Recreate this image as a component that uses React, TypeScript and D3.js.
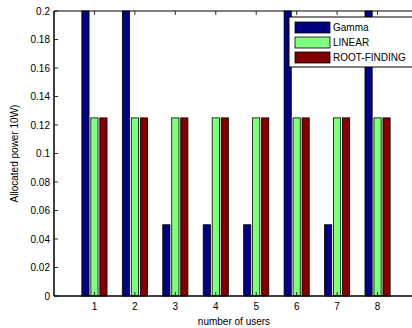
import React from "react";
import * as d3 from "d3";

const users = [1, 2, 3, 4, 5, 6, 7, 8];
const gamma = [0.2, 0.2, 0.05, 0.05, 0.05, 0.2, 0.05, 0.2];
const linear = [0.125, 0.125, 0.125, 0.125, 0.125, 0.125, 0.125, 0.125];
const rootFinding = [0.125, 0.125, 0.125, 0.125, 0.125, 0.125, 0.125, 0.125];
const yTicks = [0, 0.02, 0.04, 0.06, 0.08, 0.1, 0.12, 0.14, 0.16, 0.18, 0.2];

const seriesNames = ["Gamma", "LINEAR", "ROOT-FINDING"];
const colors = ["#000080", "#80ff80", "#800000"];

const W = 412;
const H = 328;
const margin = { top: 11, left: 54, bottom: 32, right: -6 };
const font = "Liberation Sans, Arial, Helvetica, sans-serif";

export default function App() {
  const x = d3.scaleLinear().domain([0, 9]).range([margin.left, W - margin.right]);
  const y = d3.scaleLinear().domain([0, 0.2]).range([H - margin.bottom, margin.top]);
  const series = [gamma, linear, rootFinding];

  // matlab grouped bars: group width 3/4.5, each bar 0.8 of its slot
  const slot = 3 / 4.5 / 3;
  const bw = x(slot * 0.8) - x(0);

  return (
    <svg
      width={W}
      height={H}
      style={{ position: "absolute", left: 0, top: 0, background: "#fff", fontFamily: font }}
    >
      <rect x={0} y={0} width={W} height={H} fill="#fff" />
      {/* bars */}
      {series.map((vals, s) =>
        vals.map((v, i) => {
          const cx = x(users[i] + (s - 1) * slot);
          return (
            <rect
              key={`${s}-${i}`}
              x={cx - bw / 2}
              y={y(v)}
              width={bw}
              height={y(0) - y(v)}
              fill={colors[s]}
              stroke="#000"
              strokeWidth={0.8}
            />
          );
        })
      )}

      {/* box */}
      <line x1={x(0)} x2={x(9)} y1={y(0.2)} y2={y(0.2)} stroke="#000" strokeWidth={1} />
      <line x1={x(0)} x2={x(9)} y1={y(0)} y2={y(0)} stroke="#000" strokeWidth={1.5} />
      <line x1={x(0)} x2={x(0)} y1={y(0)} y2={y(0.2)} stroke="#000" strokeWidth={1.5} />

      {/* y ticks */}
      {yTicks.map((t) => (
        <g key={t}>
          <line x1={x(0)} x2={x(0) + 4} y1={y(t)} y2={y(t)} stroke="#000" strokeWidth={0.8} />
          <text x={x(0) - 4} y={y(t)} dy="0.35em" textAnchor="end" fontSize={10} fill="#000">
            {t}
          </text>
        </g>
      ))}

      {/* x ticks */}
      {users.map((u) => (
        <g key={u}>
          <line x1={x(u)} x2={x(u)} y1={y(0)} y2={y(0) - 4} stroke="#000" strokeWidth={0.8} />
          <line x1={x(u)} x2={x(u)} y1={y(0.2)} y2={y(0.2) + 4} stroke="#000" strokeWidth={0.8} />
          <text x={x(u)} y={y(0) + 14} textAnchor="middle" fontSize={10} fill="#000">
            {u}
          </text>
        </g>
      ))}

      {/* axis labels */}
      <text x={(x(0) + x(9)) / 2 - 2} y={325} textAnchor="middle" fontSize={10} fill="#000">
        number of users
      </text>
      <text
        transform={`translate(18, ${(y(0) + y(0.2)) / 2}) rotate(-90)`}
        textAnchor="middle"
        fontSize={10}
        fill="#000"
      >
        Allocated power 10W)
      </text>

      {/* legend */}
      <g transform="translate(289, 17)">
        <rect x={0} y={0} width={128} height={50} fill="#fff" stroke="#000" strokeWidth={1} />
        {seriesNames.map((name, i) => (
          <g key={name} transform={`translate(6, ${10 + i * 15})`}>
            <rect x={0} y={-5} width={35} height={11} fill={colors[i]} stroke="#000" strokeWidth={0.8} />
            <text x={38} y={0} dy="0.35em" fontSize={10} fill="#000">
              {name}
            </text>
          </g>
        ))}
      </g>
    </svg>
  );
}
